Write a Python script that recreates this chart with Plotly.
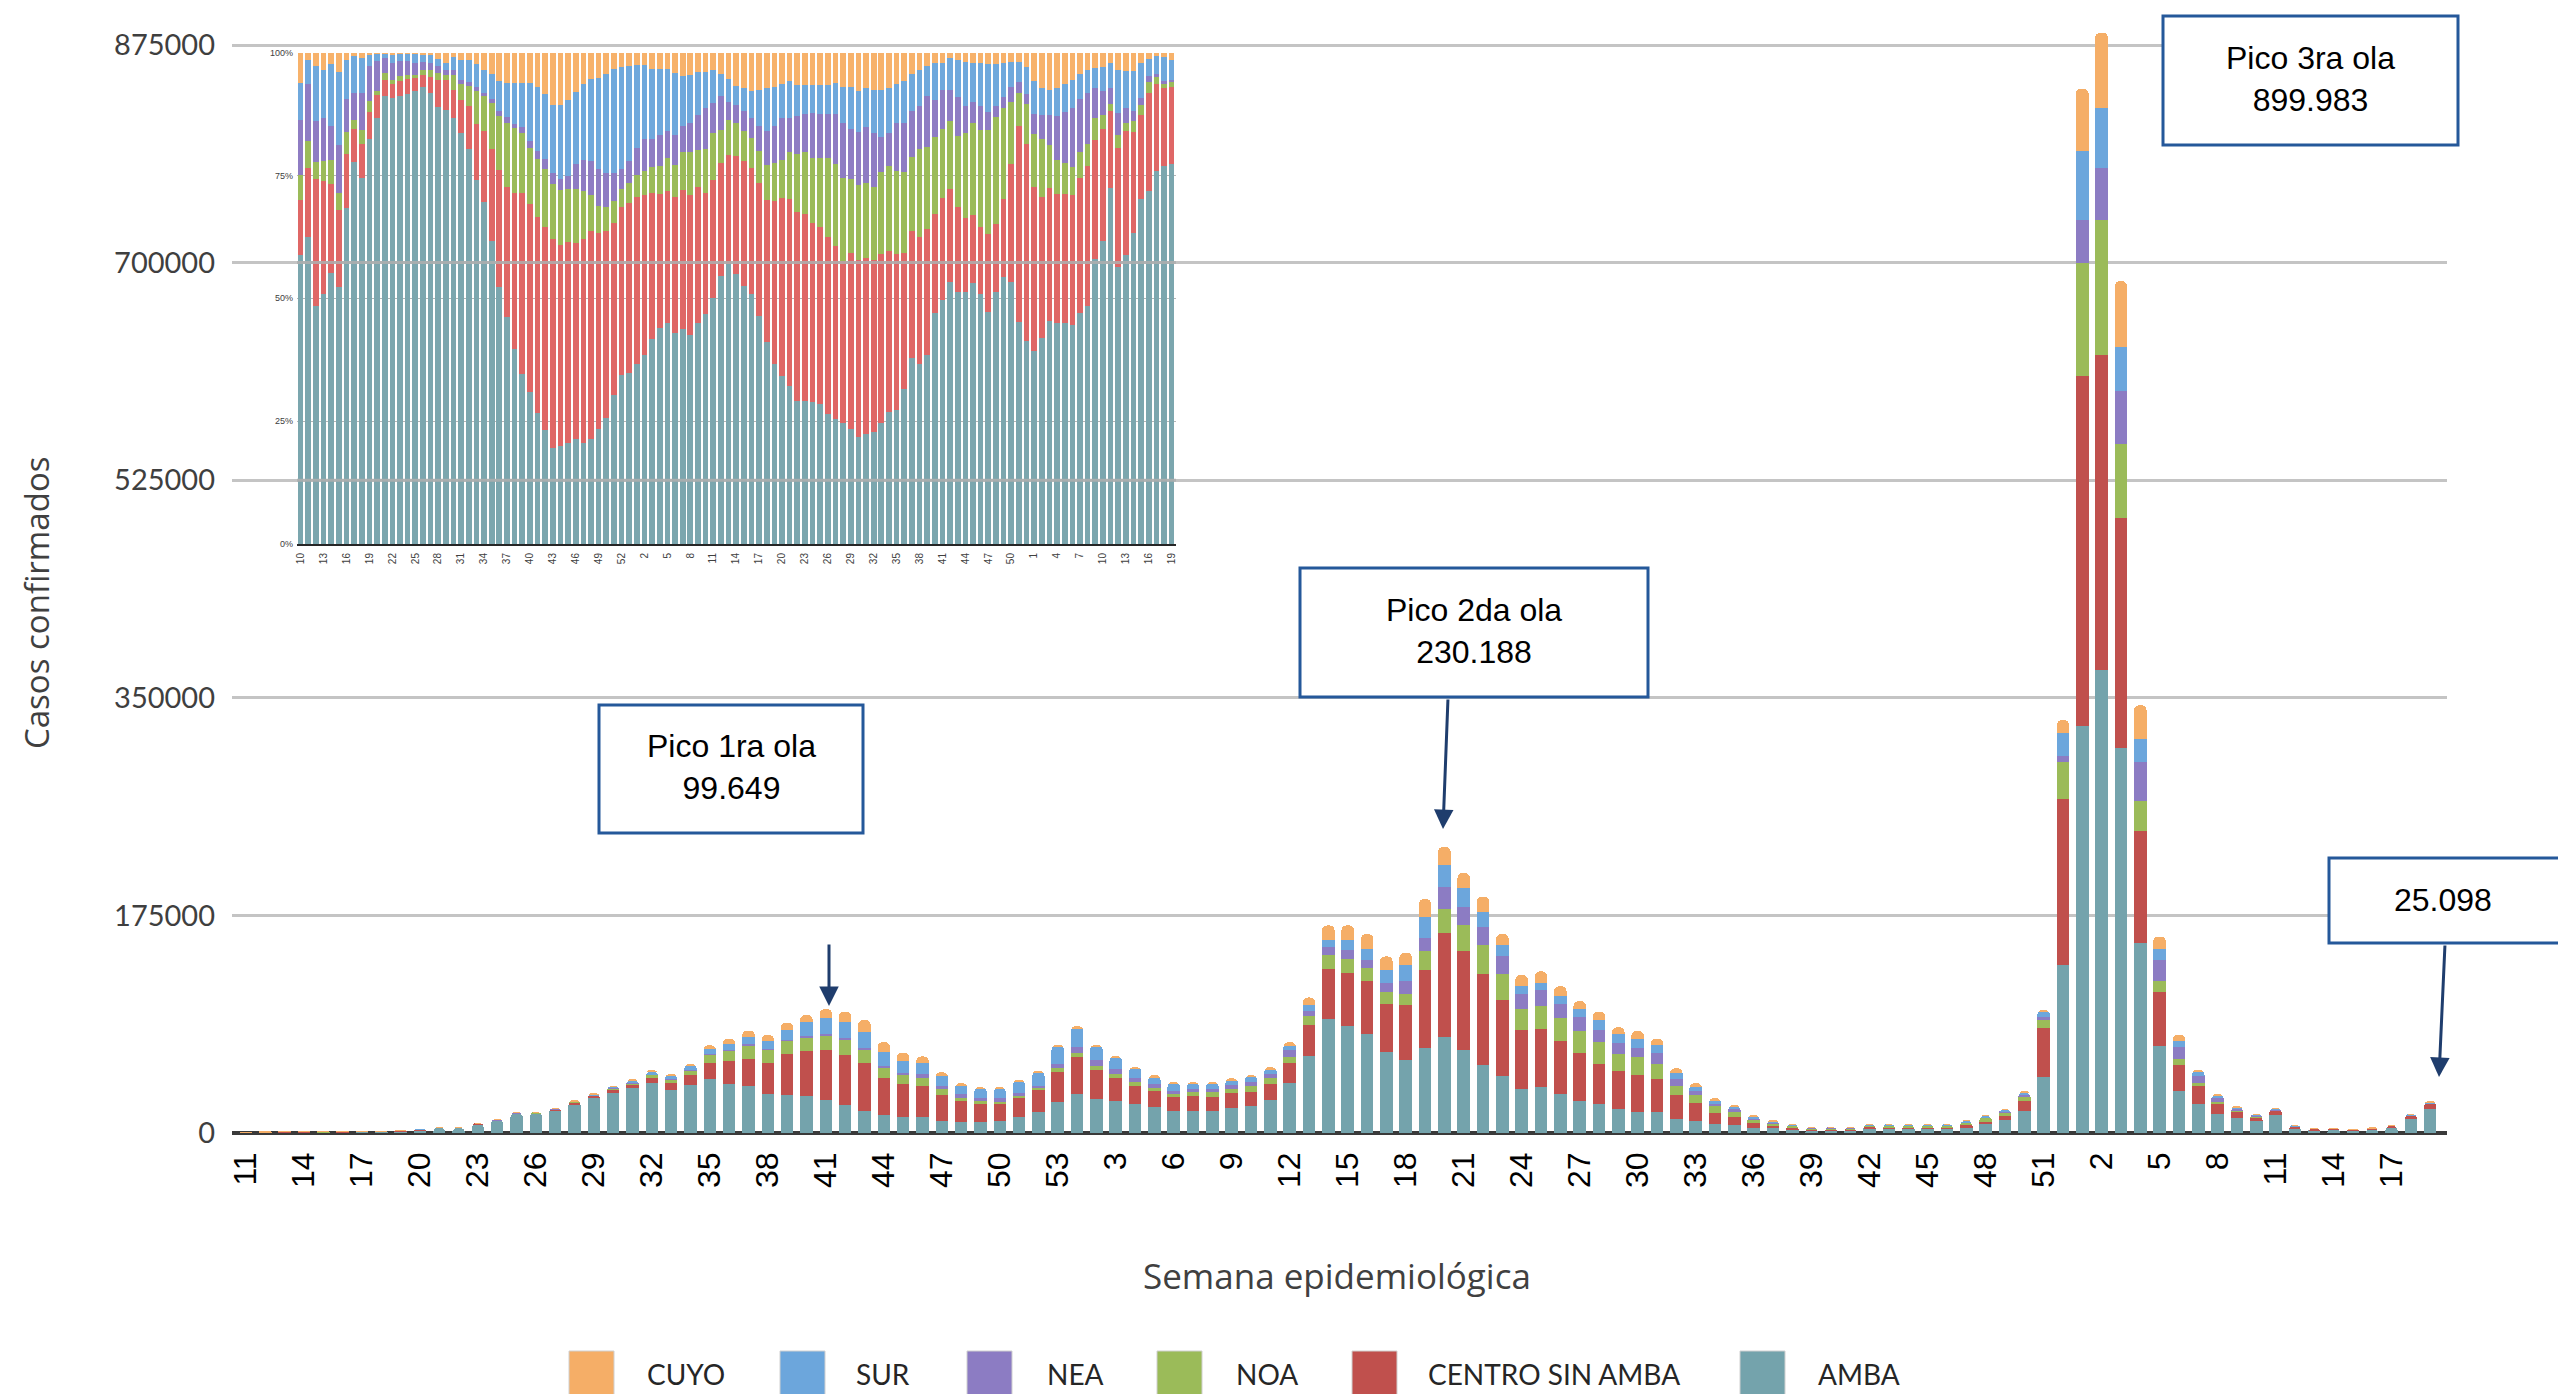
import plotly.graph_objects as go

# semanas epidemiológicas: 2020 (11-53), 2021 (1-52), 2022 (1-19)
semanas = list(range(11, 54)) + list(range(1, 53)) + list(range(1, 20))
# recuadro porcentual: 2020 (10-53), 2021 (1-52), 2022 (1-19)
semanas_rec = list(range(10, 54)) + list(range(1, 53)) + list(range(1, 20))

regiones = ["AMBA", "CENTRO SIN AMBA", "NOA", "NEA", "SUR", "CUYO"]
colores = ["#74A3AC", "#C0504D", "#9BBB59", "#8C7CC3", "#6CA6DC", "#F5AE67"]
colores_rec = ["#7BA6AE", "#DF6766", "#9BBB59", "#8E7CC3", "#6FA8DC", "#F7B26B"]

# casos confirmados por semana (miles)
casos_amba = [
    0.1, 0.4, 0.6, 0.7, 0.6, 0.8, 1.0, 1.2, 1.6, 2.4, 4.2, 4.2, 7.1, 9.9, 15.5, 15.6, 18.3, 23.1, 27.9, 32.5,
    35.9, 40.2, 34.8, 38.7, 43.5, 39.7, 38.0, 31.4, 30.6, 29.5, 26.6, 22.5, 17.7, 14.6, 13.2, 13.2, 10.0, 8.6,
    8.6, 9.5, 13.0, 17.2, 24.7,
    31.6, 27.4, 25.9, 23.3, 20.9, 17.6, 18.0, 17.4, 19.8, 21.8, 26.5, 39.9, 62.2, 91.7, 86, 80, 65, 59, 68, 77.5,
    67, 55, 46, 35, 37, 31, 26, 23, 19.5, 17, 16.5, 11, 10, 7.3, 6.1, 4.4, 3.8, 2.6, 1.7, 2.1,
    2.2, 3.7, 3.6, 3.6, 3.7, 3.55, 4.7, 7.2, 10.3, 17.6, 44.7, 135,
    327, 372, 310, 153, 70, 34, 23, 15, 12.2, 9.3, 14.5, 3.4, 2.35, 2.5, 2.1, 2.9, 4.6, 11.5, 19.4,
]
casos_centro = [
    0.05, 0.2, 0.3, 0.25, 0.2, 0.13, 0.1, 0.1, 0.1, 0.12, 0.15, 0.14, 0.23, 0.33, 0.47, 0.4, 0.7, 1.5, 1.9, 2.1,
    2.9, 4.35, 5.4, 8.0, 13.2, 18.2, 21.9, 25.1, 32.7, 36.2, 39.9, 40.4, 38.8, 29.9, 26.4, 24.5, 20.3, 16.9,
    14.8, 14.0, 15.1, 17.1, 24.6,
    29.2, 23.0, 18.5, 14.5, 12.5, 11.3, 11.6, 11.7, 12.2, 11.5, 12.7, 16.8, 24.3, 40.2, 43, 42, 39, 44, 63, 83,
    79.5, 72.5, 61, 47.5, 47, 43, 38, 32.5, 30, 30, 27, 19.5, 14, 9.1, 7.1, 3.9, 2.6, 1.8, 1.15, 0.9,
    0.93, 1.3, 1.2, 1.06, 0.97, 0.97, 1.6, 1.9, 3.0, 7.9, 39.4, 134,
    282, 254, 185, 90, 43, 20.5, 14.5, 8.8, 5.1, 3.4, 3.2, 1.45, 1.0, 0.83, 0.52, 0.8, 1.05, 2.4, 3.97,
]
casos_noa = [
    0, 0.03, 0.05, 0.06, 0.05, 0.05, 0.03, 0.04, 0.04, 0.03, 0.06, 0.04, 0.08, 0.08, 0.1, 0.17, 0.28, 0.36, 0.3, 1.2,
    1.4, 2.1, 3.2, 3.9, 6.6, 8.3, 10.6, 10.3, 10.8, 10.8, 11.8, 11.5, 10.2, 8.2, 7.0, 6.8, 4.8, 2.9,
    2.0, 1.8, 1.9, 1.9, 2.8,
    3.9, 3.5, 3.2, 3.0, 3.1, 2.7, 3.2, 3.6, 3.3, 4.2, 5.1, 4.8, 7.6, 11.0, 11, 11, 9, 9, 15, 19.5,
    20.5, 23.5, 21, 17, 18, 18.5, 18, 17.5, 14, 14, 12, 7, 6.5, 5.2, 3.8, 2.3, 1.5, 1.3, 0.75, 0.7,
    0.63, 0.96, 1.0, 1.2, 1.3, 1.37, 2.1, 3.05, 3.5, 4.2, 6.6, 29,
    91, 108, 59, 24, 9.5, 5, 2.5, 1.4, 0.9, 0.4, 0.3, 0.16, 0.07, 0.08, 0.06, 0.1, 0.09, 0.15, 0.28,
]
casos_nea = [
    0.02, 0.07, 0.1, 0.1, 0.12, 0.08, 0.07, 0.12, 0.14, 0.16, 0.14, 0.15, 0.23, 0.3, 0.39, 0.29, 0.28, 0.34, 0.3, 0.4,
    0.35, 0.35, 0.4, 0.4, 0.5, 0.8, 1.0, 0.6, 1.1, 1.5, 1.6, 2.0, 2.0, 1.5, 1.7, 3.1, 3.1, 2.8,
    2.8, 2.6, 2.5, 2.0, 3.2,
    4.6, 4.7, 3.5, 3.4, 2.6, 2.5, 2.2, 2.4, 3.1, 3.9, 3.2, 5.1, 4.0, 6.3, 7, 6, 8, 10, 11, 17.5,
    15, 15, 14, 12, 13, 11.5, 11.5, 10, 9, 7.5, 9, 6, 3, 2, 2.2, 1.4, 0.9, 0.6, 0.46, 0.33,
    0.35, 0.44, 0.55, 0.38, 0.3, 0.34, 0.4, 0.32, 0.42, 0.96, 2.4, 5,
    34, 42, 43, 31, 17, 9.5, 5.5, 3.2, 1.3, 0.7, 0.6, 0.27, 0.12, 0.08, 0.04, 0.05, 0.04, 0.06, 0.08,
]
casos_sur = [
    0.02, 0.09, 0.12, 0.16, 0.17, 0.09, 0.1, 0.11, 0.05, 0.05, 0.05, 0.09, 0.13, 0.18, 0.35, 0.24, 0.32, 0.36, 0.45, 1.0,
    1.7, 2.25, 2.2, 2.6, 3.7, 4.6, 5.8, 6.6, 7.9, 11.1, 12.9, 12.8, 12.6, 11.1, 9.9, 9.0, 7.5, 6.7,
    6.8, 7.5, 9.1, 10.4, 13.7,
    14.5, 10.6, 8.9, 7.1, 5.9, 5.1, 4.2, 4.0, 3.8, 3.3, 3.5, 3.3, 5.1, 6.3, 8, 9, 10, 13, 17, 18,
    15, 12, 9, 7, 6, 6.5, 6.5, 8, 6.8, 7.5, 6, 5, 3.5, 2.4, 1.8, 1.2, 0.8, 0.5, 0.27, 0.34,
    0.25, 0.46, 0.53, 0.63, 0.56, 0.6, 0.96, 1.2, 1.33, 1.7, 4.0, 19,
    56, 48, 35, 19, 8.5, 5, 3.5, 1.5, 0.9, 0.7, 1.0, 0.53, 0.3, 0.32, 0.22, 0.14, 0.22, 0.75, 1.0,
]
casos_cuyo = [
    0.01, 0.02, 0.04, 0.03, 0.05, 0.02, 0.01, 0.02, 0.01, 0.0, 0.01, 0.01, 0.01, 0.01, 0.02, 0.08, 0.1, 0.36, 0.7, 0.3,
    0.65, 0.75, 1.1, 1.9, 3.0, 4.4, 5.1, 4.9, 5.5, 5.9, 6.849, 8.3, 9.6, 7.7, 6.3, 5.0, 3.1, 2.2,
    1.9, 1.6, 1.4, 1.5, 2.0,
    2.2, 1.8, 2.0, 1.7, 1.5, 1.8, 1.8, 1.9, 1.8, 1.8, 2.0, 3.1, 5.8, 11.4, 12, 12, 11, 10, 14, 14.688,
    12, 12, 9, 8.5, 9, 7.5, 6, 6.5, 5.7, 6, 5.5, 3.5, 3, 2, 1.4, 0.8, 0.4, 0.25, 0.12, 0.1,
    0.1, 0.08, 0.1, 0.13, 0.15, 0.15, 0.24, 0.33, 0.4, 0.63, 1.9, 10,
    50, 61, 53, 27, 10, 5, 2, 1.1, 0.65, 0.45, 0.4, 0.21, 0.15, 0.15, 0.06, 0.05, 0.04, 0.12, 0.368,
]

# distribución porcentual por región (recuadro)
pct_amba = [
    58.8, 62.4, 48.5, 50.9, 55.3, 52.2, 68.4, 77.8, 74.5, 82.5, 86.6, 91.2, 90.6, 91.2, 91.5, 92.1, 92.9, 91.7, 88.9, 88.2,
    86.6, 83.5, 80.4, 74.0, 69.7, 61.7, 52.2, 46.1, 39.7, 34.6, 31.0, 26.7, 23.1, 19.5, 20.0, 20.5, 21.4, 20.5, 21.4, 23.3,
    25.7, 30.3, 34.3, 34.8,
    36.7, 38.6, 41.8, 44.0, 45.0, 43.0, 43.8, 42.4, 45.0, 46.8, 50.0, 54.6, 57.1, 54.9, 52.5, 50.8, 46.4, 41.2, 36.7, 34.1,
    32.2, 29.1, 29.1, 28.9, 28.5, 26.4, 25.5, 24.7, 23.5, 21.7, 22.5, 22.8, 24.6, 26.8, 27.3, 31.5, 37.9, 36.7, 38.5, 47.0,
    49.8, 53.4, 51.3, 51.3, 53.1, 50.8, 47.3, 51.3, 54.3, 53.4, 45.2, 41.3,
    39.2, 41.9, 45.4, 45.0, 45.0, 44.7, 47.0, 48.4, 57.9, 61.8, 72.4, 56.4, 58.8, 63.3, 70.1, 71.9, 76.0, 76.9, 77.2,
]
pct_centro = [
    11.3, 14.1, 25.8, 23.0, 18.0, 15.7, 10.9, 6.6, 7.0, 5.4, 4.5, 3.3, 3.0, 3.0, 3.1, 2.8, 2.4, 3.4, 5.6, 6.1,
    5.6, 6.8, 8.7, 11.4, 14.5, 18.7, 23.9, 26.6, 31.8, 36.9, 38.1, 40.0, 41.4, 42.6, 40.9, 40.9, 39.9, 41.5, 42.3, 40.0,
    37.9, 35.1, 34.2, 34.6,
    34.0, 32.4, 29.8, 27.3, 26.8, 27.6, 28.2, 28.5, 27.7, 24.8, 24.0, 23.0, 22.3, 24.1, 25.4, 25.7, 27.1, 28.9, 33.1, 36.3,
    38.1, 38.6, 38.1, 36.5, 36.0, 36.0, 35.1, 32.9, 35.7, 36.0, 35.8, 35.0, 34.4, 32.8, 31.7, 27.8, 25.7, 25.7, 25.5, 20.0,
    20.7, 19.0, 17.3, 15.2, 13.8, 13.8, 15.8, 13.9, 16.0, 23.9, 39.8, 40.2,
    33.5, 28.7, 26.9, 26.2, 26.2, 26.3, 27.5, 28.5, 24.2, 22.8, 15.8, 24.1, 25.2, 20.7, 17.2, 19.8, 17.6, 15.9, 15.8,
]
pct_noa = [
    5.1, 5.5, 3.5, 4.0, 4.9, 3.6, 4.5, 1.9, 2.8, 2.2, 1.0, 1.3, 0.8, 1.0, 0.7, 0.6, 1.0, 1.4, 1.4, 1.0,
    3.1, 3.3, 4.2, 6.8, 7.0, 9.4, 10.9, 12.9, 13.1, 12.2, 11.4, 11.8, 11.8, 11.2, 11.3, 10.8, 11.0, 9.7, 7.3, 5.4,
    4.9, 4.4, 3.7, 4.0,
    4.5, 4.9, 5.2, 5.6, 6.7, 6.6, 7.7, 8.8, 7.5, 9.0, 9.7, 6.6, 7.0, 6.6, 6.1, 6.1, 6.5, 7.2, 7.9, 7.7,
    9.4, 11.7, 12.5, 13.1, 13.9, 16.0, 16.6, 16.8, 15.1, 15.3, 15.2, 15.0, 16.8, 17.3, 17.0, 16.5, 15.1, 18.0, 16.8, 15.8,
    14.1, 13.7, 14.5, 17.3, 18.8, 19.6, 21.1, 21.8, 18.4, 12.7, 6.7, 8.2,
    10.8, 11.8, 8.8, 7.0, 6.4, 5.8, 5.2, 4.5, 4.5, 2.8, 1.4, 2.6, 1.7, 2.1, 1.9, 2.4, 1.5, 1.0, 1.1,
]
pct_nea = [
    11.1, 11.6, 8.3, 8.7, 7.0, 9.7, 6.8, 5.4, 7.5, 7.1, 5.9, 3.1, 3.3, 3.0, 2.8, 2.3, 1.7, 1.4, 1.3, 1.0,
    1.0, 0.8, 0.7, 0.8, 0.7, 0.7, 1.0, 1.2, 0.8, 1.2, 1.6, 1.6, 2.1, 2.2, 2.1, 2.7, 5.0, 6.4, 7.0, 7.6,
    7.0, 5.8, 4.1, 4.5,
    5.4, 6.6, 5.7, 6.4, 5.5, 6.1, 5.4, 5.9, 7.1, 8.4, 6.1, 7.0, 3.7, 3.8, 4.2, 4.0, 5.1, 6.8, 7.5, 8.5,
    7.0, 7.7, 7.8, 9.2, 9.0, 9.0, 10.2, 11.3, 10.3, 10.8, 11.5, 10.9, 7.1, 6.8, 9.7, 9.9, 9.4, 8.7, 10.3, 7.4,
    7.8, 6.3, 7.9, 5.4, 4.2, 4.9, 3.8, 2.3, 2.2, 2.9, 2.4, 1.9,
    4.0, 4.9, 6.1, 8.8, 10.4, 12.1, 10.9, 10.4, 6.1, 4.9, 3.1, 4.5, 3.0, 2.1, 1.4, 1.2, 0.6, 0.4, 0.3,
]
pct_sur = [
    7.7, 4.9, 11.1, 9.9, 12.5, 14.8, 7.9, 7.6, 7.1, 2.3, 1.7, 1.0, 1.9, 1.7, 1.7, 2.1, 1.4, 1.6, 1.4, 1.4,
    2.8, 4.0, 4.5, 4.6, 4.7, 5.2, 6.1, 7.0, 8.4, 8.9, 11.7, 12.9, 13.1, 13.9, 15.2, 15.3, 14.6, 15.4, 16.7, 18.5,
    20.2, 21.1, 20.7, 19.3,
    16.9, 15.0, 14.3, 13.4, 12.7, 12.5, 10.2, 9.8, 8.7, 7.2, 6.6, 4.5, 4.7, 3.8, 4.6, 5.6, 7.3, 8.8, 7.9, 7.0,
    7.5, 6.4, 5.9, 5.7, 5.9, 5.9, 6.3, 7.4, 8.4, 8.4, 7.8, 8.7, 9.4, 9.0, 7.9, 8.6, 7.5, 7.3, 6.1, 7.5,
    5.6, 6.5, 7.5, 9.0, 8.0, 8.7, 9.6, 8.4, 7.0, 5.2, 4.0, 5.6,
    6.7, 5.4, 5.0, 5.8, 5.6, 5.6, 5.1, 4.7, 4.1, 4.9, 5.2, 8.8, 7.5, 8.1, 7.2, 3.5, 3.7, 5.0, 4.0,
]
pct_cuyo = [
    6.1, 1.5, 2.8, 3.5, 2.4, 4.0, 1.5, 0.7, 1.2, 0.5, 0.1, 0.1, 0.3, 0.1, 0.1, 0.1, 0.5, 0.5, 1.4, 2.2,
    0.8, 1.5, 1.5, 2.4, 3.5, 4.3, 5.8, 6.2, 6.2, 6.2, 6.2, 7.1, 8.5, 10.6, 10.6, 9.7, 8.1, 6.4, 5.4, 5.1,
    4.3, 3.3, 2.9, 2.8,
    2.6, 2.6, 3.3, 3.3, 3.3, 4.2, 4.7, 4.5, 4.0, 4.0, 3.6, 4.3, 5.4, 6.8, 7.2, 7.8, 7.6, 7.2, 7.0, 6.4,
    5.8, 6.6, 6.6, 6.6, 6.6, 6.6, 6.2, 6.9, 7.1, 7.8, 7.3, 7.7, 7.7, 7.3, 6.4, 5.7, 4.3, 3.6, 2.7, 2.2,
    2.1, 1.2, 1.5, 1.9, 2.1, 2.2, 2.4, 2.4, 2.1, 1.9, 1.9, 2.9,
    5.8, 7.2, 7.7, 7.2, 6.4, 5.6, 4.3, 3.5, 3.1, 2.9, 2.1, 3.5, 3.8, 3.8, 2.1, 1.2, 0.6, 0.8, 1.5,
]

casos = [casos_amba, casos_centro, casos_noa, casos_nea, casos_sur, casos_cuyo]
pcts = [pct_amba, pct_centro, pct_noa, pct_nea, pct_sur, pct_cuyo]

W, H = 2558, 1394
ML, MR, MT, MB = 232, 111, 7, 261
PW, PH = W - ML - MR, H - MT - MB


def px(x):  # pixel -> paper
    return (x - ML) / PW


def py(y):
    return (H - MB - y) / PH


fig = go.Figure()

x_main = list(range(len(semanas)))
for nombre, serie, color in zip(regiones, casos, colores):
    fig.add_trace(go.Bar(
        x=x_main, y=[v * 1000 for v in serie], name=nombre, width=0.65,
        marker=dict(color=color, line_width=0, cornerradius=5),
        showlegend=False, xaxis="x", yaxis="y",
    ))

# recuadro porcentual (se normaliza a 100 %)
x_rec = list(range(len(semanas_rec)))
totales = [sum(v) for v in zip(*pcts)]
for nombre, serie, color in zip(regiones, pcts, colores_rec):
    fig.add_trace(go.Bar(
        x=x_rec, y=[v / t * 100 for v, t in zip(serie, totales)], name=nombre, width=0.74,
        marker=dict(color=color, line_width=0),
        showlegend=False, xaxis="x2", yaxis="y2",
    ))

tick_main = list(range(0, len(semanas), 3))
tick_rec = list(range(0, len(semanas_rec), 3))

fig.update_layout(
    width=W, height=H,
    margin=dict(l=ML, r=MR, t=MT, b=MB, autoexpand=False),
    paper_bgcolor="white", plot_bgcolor="rgba(0,0,0,0)",
    barmode="stack",
    xaxis=dict(
        domain=[0, 1], range=[-0.72, 113.87], tickmode="array", tickvals=tick_main,
        ticktext=[str(semanas[i]) for i in tick_main], tickangle=-90, showgrid=False, zeroline=False,
        tickfont=dict(family="Liberation Sans, Arial", size=32, color="black"),
        ticks="", ticklabelstandoff=12, fixedrange=True,
    ),
    yaxis=dict(
        domain=[0, 1], range=[0, 905570], tickmode="array",
        tickvals=[0, 175000, 350000, 525000, 700000, 875000],
        ticktext=["0", "175000", "350000", "525000", "700000", "875000"],
        showgrid=True, gridcolor="#C4C4C4", gridwidth=3,
        zeroline=True, zerolinecolor="#3A3A3A", zerolinewidth=4,
        tickfont=dict(family="Lato, Open Sans", size=29, color="#3F3F3F"),
        ticks="", ticklabelstandoff=16,
    ),
    xaxis2=dict(
        domain=[px(297), px(1176)], anchor="y2", range=[-0.48, 114.57], tickmode="array",
        tickvals=tick_rec, ticktext=[str(semanas_rec[i]) for i in tick_rec], tickangle=-90,
        showgrid=False, zeroline=False, showline=True, linecolor="#262626", linewidth=2,
        tickfont=dict(family="Liberation Sans, Arial", size=10, color="#404040"),
        ticks="", ticklabelstandoff=3,
    ),
    yaxis2=dict(
        domain=[py(544), py(52.6)], anchor="x2", range=[0, 100], tickmode="array",
        tickvals=[0, 25, 50, 75, 100], ticktext=["0%", "25%", "50%", "75%", "100%"],
        showgrid=True, gridcolor="#B5B5B5", gridwidth=1, zeroline=False,
        tickfont=dict(family="Liberation Sans, Arial", size=9, color="#404040"),
        ticks="", ticklabelstandoff=3,
    ),
)

shapes = []
# líneas de la grilla principal que cruzan el recuadro
for val in [525000, 700000]:
    shapes.append(dict(type="line", xref="paper", yref="y", x0=px(297), x1=px(1176), y0=val, y1=val,
                       line=dict(color="rgba(175,175,175,0.85)", width=3), layer="above"))

azul_caja = "#25589A"
azul_flecha = "#1F3D6D"
cajas = [
    (599, 705, 863, 833, "Pico 1ra ola<br>99.649", 731, 767),
    (1300, 568, 1648, 697, "Pico 2da ola<br>230.188", 1474, 631),
    (2163, 16, 2458, 145, "Pico 3ra ola<br>899.983", 2310, 79),
    (2329, 858, 2575, 943, "25.098", 2443, 900),
]
annotations = []
for x0, y0, x1, y1, texto, cx, cy in cajas:
    shapes.append(dict(type="rect", xref="paper", yref="paper", x0=px(x0), x1=px(x1), y0=py(y1), y1=py(y0),
                       line=dict(color=azul_caja, width=3), fillcolor="white", layer="above"))
    annotations.append(dict(xref="paper", yref="paper", x=px(cx), y=py(cy), text=texto, showarrow=False,
                            xanchor="center", yanchor="middle", align="center",
                            font=dict(family="Liberation Sans, Arial", size=32, color="black")))

flechas = [((829, 943), (829, 1006)), ((1448, 698), (1443, 829)), ((2445, 944), (2439, 1077))]
for (tx, ty), (hx, hy) in flechas:
    annotations.append(dict(xref="paper", yref="paper", x=px(hx), y=py(hy), ax=tx - hx, ay=ty - hy,
                            axref="pixel", ayref="pixel", text="", showarrow=True, arrowhead=2,
                            arrowsize=1.3, arrowwidth=3, arrowcolor=azul_flecha, standoff=0))

# títulos de ejes
annotations.append(dict(xref="paper", yref="paper", x=px(36), y=py(603), text="Casos confirmados",
                        textangle=-90, showarrow=False, xanchor="center", yanchor="middle",
                        font=dict(family="Open Sans", size=33, color="#404040")))
annotations.append(dict(xref="paper", yref="paper", x=px(1337), y=py(1275), text="Semana epidemiológica",
                        showarrow=False, xanchor="center", yanchor="middle",
                        font=dict(family="Open Sans", size=35, color="#404040")))

# leyenda
leyenda = [("CUYO", 5, 569, 645), ("SUR", 4, 780, 854), ("NEA", 3, 967, 1045), ("NOA", 2, 1157, 1234),
           ("CENTRO SIN AMBA", 1, 1352, 1426), ("AMBA", 0, 1740, 1816)]
for texto, idx, sx, tx in leyenda:
    shapes.append(dict(type="rect", xref="paper", yref="paper", x0=px(sx), x1=px(sx + 45),
                       y0=py(1400), y1=py(1351), line=dict(color="#D0D0D0", width=1),
                       fillcolor=colores[idx]))
    annotations.append(dict(xref="paper", yref="paper", x=px(tx), y=py(1374), text=texto, showarrow=False,
                            xanchor="left", yanchor="middle",
                            font=dict(family="Lato, Open Sans", size=28, color="#262626")))

fig.update_layout(shapes=shapes, annotations=annotations)

# sin margen del <body> para que la figura ocupe la ventana exacta
fig.write_html("out.html", config={"displayModeBar": False},
               post_script="document.body.style.margin='0';")
